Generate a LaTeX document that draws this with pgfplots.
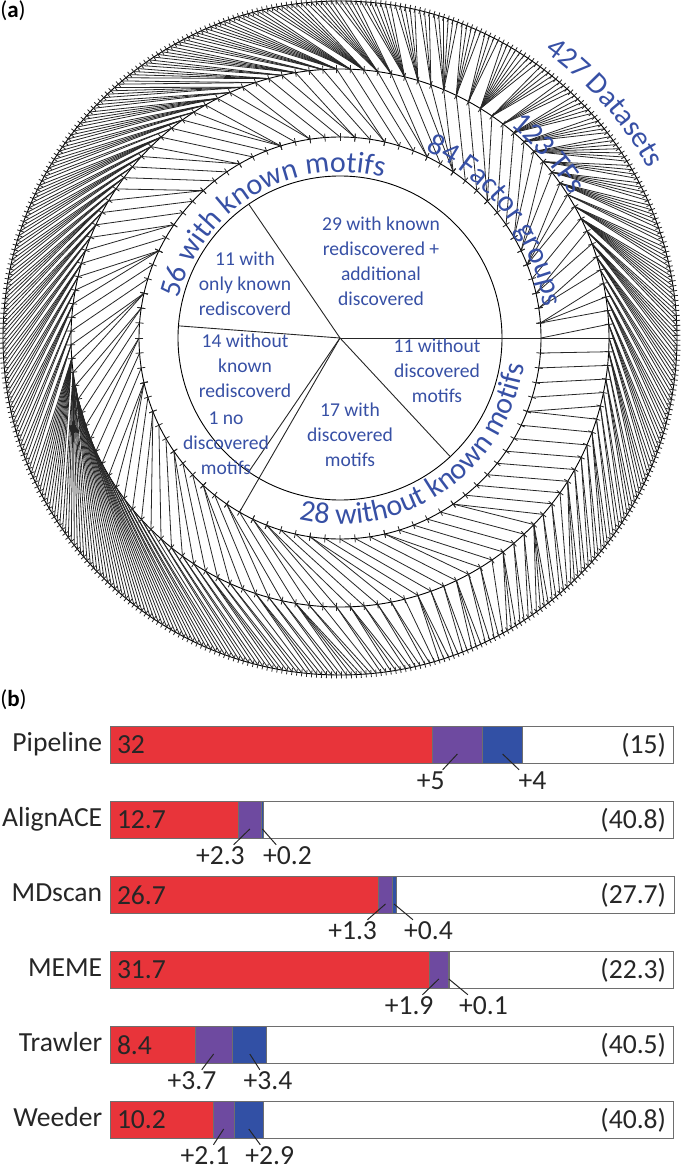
\documentclass[border=0pt]{standalone}
\usepackage{fontspec}
\setmainfont{Carlito}
\usepackage{pgfplots}
\usepackage{pgfplotstable}
\pgfplotsset{compat=1.18}
\usetikzlibrary{decorations.text}

\definecolor{tblue}{RGB}{55,80,165}
\definecolor{kred}{RGB}{232,52,58}
\definecolor{kpurple}{RGB}{110,74,160}
\definecolor{kblue}{RGB}{50,80,165}
\definecolor{edge}{RGB}{110,110,110}
\newcommand{\lbl}{\fontsize{13.8}{16}\selectfont}
\newcommand{\arcf}{\fontsize{15}{18}\selectfont}

% one row per dataset: index of its TF
\pgfplotstableread[row sep=\\]{
t\\
0\\0\\0\\ 1\\1\\1\\1\\ 2\\2\\2\\ 3\\3\\3\\3\\ 4\\4\\4\\ 5\\5\\5\\
6\\6\\6\\6\\6\\ 7\\7\\7\\7\\7\\7\\ 8\\8\\8\\8\\ 9\\9\\9\\9\\9\\9\\9\\9\\
10\\10\\10\\10\\10\\ 11\\11\\11\\ 12\\12\\12\\12\\12\\12\\ 13\\13\\13\\13\\13\\
14\\14\\14\\14\\ 15\\15\\15\\15\\15\\15\\15\\ 16\\16\\16\\16\\16\\ 17\\17\\17\\17\\17\\17\\
18\\18\\18\\18\\ 19\\19\\19\\19\\19\\ 20\\20\\20\\20\\20\\20\\20\\20\\20\\ 21\\21\\21\\21\\
22\\22\\22\\22\\22\\ 23\\23\\23\\23\\23\\23\\ 24\\24\\24\\ 25\\25\\25\\25\\25\\
26\\26\\26\\26\\26\\26\\26\\ 27\\27\\27\\27\\27\\ 28\\28\\28\\28\\28\\28\\
29\\29\\29\\29\\29\\29\\29\\29\\ 30\\30\\30\\30\\30\\30\\30\\ 31\\31\\31\\31\\31\\31\\
32\\32\\32\\32\\ 33\\33\\33\\ 34\\34\\34\\34\\34\\ 35\\35\\35\\ 36\\36\\36\\36\\ 37\\37\\
38\\38\\38\\38\\ 39\\39\\39\\ 40\\40\\40\\40\\40\\ 41\\41\\41\\41\\ 42\\42\\42\\ 43\\43\\43\\43\\
44\\44\\ 45\\45\\45\\45\\45\\ 46\\46\\46\\ 47\\47\\47\\47\\ 48\\48\\48\\ 49\\49\\49\\49\\
50\\50\\50\\ 51\\51\\51\\51\\
52\\52\\52\\ 53\\53\\53\\53\\ 54\\54\\54\\ 55\\55\\55\\ 56\\56\\56\\56\\ 57\\57\\57\\
58\\58\\58\\ 59\\59\\59\\59\\ 60\\60\\ 61\\61\\61\\ 62\\62\\62\\
63\\63\\63\\63\\63\\63\\63\\63\\63\\63\\63\\63\\
64\\64\\64\\64\\64\\64\\64\\64\\64\\64\\
65\\65\\65\\65\\65\\65\\65\\65\\ 66\\66\\66\\66\\66\\66\\
67\\67\\ 68\\68\\ 69\\69\\ 70\\ 71\\71\\ 72\\72\\ 73\\73\\ 74\\74\\ 75\\75\\ 76\\76\\
77\\ 78\\78\\ 79\\79\\ 80\\80\\
81\\81\\ 82\\82\\82\\ 83\\83\\ 84\\84\\ 85\\ 86\\86\\86\\ 87\\87\\ 88\\88\\ 89\\89\\89\\89\\ 90\\90\\
91\\ 92\\92\\ 93\\93\\93\\ 94\\94\\ 95\\95\\ 96\\96\\ 97\\ 98\\98\\98\\ 99\\99\\ 100\\100\\
101\\101\\101\\ 102\\102\\ 103\\103\\ 104\\ 105\\105\\105\\ 106\\106\\ 107\\107\\
108\\108\\108\\108\\ 109\\109\\ 110\\110\\ 111\\ 112\\112\\112\\ 113\\113\\ 114\\114\\
115\\115\\ 116\\116\\116\\ 117\\117\\ 118\\118\\ 119\\119\\ 120\\120\\120\\ 121\\121\\
122\\122\\122\\122\\
}\dsets
\pgfplotstablecreatecol[expr={\pgfplotstablerow}]{d}{\dsets}

% one row per TF: index of its factor group
\pgfplotstableread[row sep=\\]{
g\\
0\\0\\ 1\\1\\1\\ 2\\2\\ 3\\3\\ 4\\ 5\\5\\5\\ 6\\6\\ 7\\7\\ 8\\
9\\ 10\\10\\ 11\\ 12\\ 13\\13\\13\\ 14\\ 15\\15\\ 16\\ 17\\ 18\\18\\ 19\\ 20\\20\\ 21\\ 22\\
23\\23\\ 24\\ 25\\25\\25\\ 26\\ 27\\ 28\\28\\ 29\\ 30\\ 31\\31\\ 32\\ 33\\ 34\\34\\ 35\\
36\\36\\36\\ 37\\ 38\\ 39\\39\\39\\
40\\40\\ 41\\ 42\\42\\ 43\\ 44\\ 45\\45\\45\\ 46\\ 47\\47\\ 48\\ 49\\ 50\\50\\ 51\\ 52\\
53\\53\\ 54\\ 55\\55\\ 56\\ 57\\57\\ 58\\58\\
59\\ 60\\ 61\\61\\ 62\\ 63\\ 64\\ 65\\ 66\\66\\ 67\\ 68\\ 69\\ 70\\ 71\\71\\ 72\\ 73\\ 74\\
75\\ 76\\ 77\\ 78\\ 79\\79\\ 80\\ 81\\ 82\\ 83\\
}\tfs
\pgfplotstablecreatecol[expr={\pgfplotstablerow}]{j}{\tfs}

% pie wedge borders (deg) and how far they reach
\pgfplotstableread{
ang r
0 201
124.3 162
175.7 162
235.7 162
240 201
312.9 162
}\wedges

\pgfplotstableread{
row known extra more rest
0 32 5 4 15
1 12.7 2.3 0.2 40.8
2 26.7 1.3 0.4 27.7
3 31.7 1.9 0.1 22.3
4 8.4 3.7 3.4 40.5
5 10.2 2.1 2.9 40.8
}\bars

\pgfplotstableread{
row seg lab txt
0 34.5 31.84 +5
0 39.0 41.98 +4
1 13.85 10.92 +2.3
1 15.1 17.6 +0.2
2 27.35 24.08 +1.3
2 28.2 31.62 +0.4
3 32.65 29.7 +1.9
3 33.65 37.1 +0.1
4 10.25 8.1 +3.7
4 13.85 15.66 +3.4
5 11.25 9.4 +2.1
5 13.75 15.83 +2.9
}\incs

\begin{document}
\begin{tikzpicture}
\useasboundingbox (0,0) rectangle (340pt,-583pt);

% ---------------- (a) ----------------
\begin{axis}[
    at={(0pt,0pt)}, anchor=north west,
    scale only axis, width=340pt, height=340pt,
    xmin=-340, xmax=340, ymin=-342, ymax=338,
    hide axis, clip=false]
\draw[line width=0.45pt] (axis cs:0,0) circle[radius=337];
\draw[line width=0.45pt] (axis cs:0,0) circle[radius=269];
\draw[line width=0.45pt] (axis cs:0,0) circle[radius=201];
\draw[line width=0.45pt] (axis cs:0,0) circle[radius=162];
% datasets -> TFs
\addplot[black!85, line width=0.4pt,
    quiver={u={269*cos(360*\thisrow{t}/123)-337*cos(360*\thisrow{d}/427-24)},
            v={269*sin(360*\thisrow{t}/123)-337*sin(360*\thisrow{d}/427-24)}}]
    table[x expr={337*cos(360*\thisrow{d}/427-24)}, y expr={337*sin(360*\thisrow{d}/427-24)}] {\dsets};
% TFs -> factor groups
\addplot[black!85, line width=0.4pt,
    quiver={u={201*cos(360*\thisrow{g}/84)-269*cos(360*\thisrow{j}/123)},
            v={201*sin(360*\thisrow{g}/84)-269*sin(360*\thisrow{j}/123)}}]
    table[x expr={269*cos(360*\thisrow{j}/123)}, y expr={269*sin(360*\thisrow{j}/123)}] {\tfs};
% ticks
\addplot[black!85, line width=0.4pt,
    quiver={u={7*cos(360*\thisrow{d}/427-24)}, v={7*sin(360*\thisrow{d}/427-24)}}]
    table[x expr={333.5*cos(360*\thisrow{d}/427-24)}, y expr={333.5*sin(360*\thisrow{d}/427-24)}] {\dsets};
\addplot[black!85, line width=0.4pt,
    quiver={u={8*cos(360*\thisrow{j}/123)}, v={8*sin(360*\thisrow{j}/123)}}]
    table[x expr={265*cos(360*\thisrow{j}/123)}, y expr={265*sin(360*\thisrow{j}/123)}] {\tfs};
\addplot[black!85, line width=0.4pt,
    quiver={u={8*cos(360*\thisrow{g}/84)}, v={8*sin(360*\thisrow{g}/84)}}]
    table[x expr={197*cos(360*\thisrow{g}/84)}, y expr={197*sin(360*\thisrow{g}/84)}] {\tfs};
% pie borders
\addplot[black!85, line width=0.45pt,
    quiver={u={\thisrow{r}*cos(\thisrow{ang})}, v={\thisrow{r}*sin(\thisrow{ang})}}]
    table[x expr=0, y expr=0] {\wedges};

\begin{scope}[every node/.style={align=center, text=tblue, font=\fontsize{9.8}{12.5}\selectfont}]
\node at (axis cs:41,77) {29 with known\\rediscovered +\\additional\\discovered};
\node at (axis cs:-95,54) {11 with\\only known\\rediscoverd};
\node at (axis cs:-95,-28) {14 without\\known\\rediscoverd};
\node at (axis cs:-114,-105) {1 no\\discovered\\motifs};
\node at (axis cs:10,-97) {17 with\\discovered\\motifs};
\node at (axis cs:97,-33) {11 without\\discovered\\motifs};
\end{scope}
\end{axis}

\node[anchor=west, inner sep=0pt, font=\fontsize{11.5}{13}\selectfont] at (0pt,-5.5pt) {(\textbf{a})};

% curved labels
\coordinate (C) at (170pt,-169pt);
\path[decorate, decoration={text along path, text align=center,
    text={|\arcf\color{tblue}|56 with known motifs}}]
    ([shift={(C)}]180.6:83pt) arc[start angle=180.6, end angle=60.6, radius=83pt];
\path[decorate, decoration={text along path, text align=center,
    text={|\arcf\color{tblue}|28 without known motifs}}]
    ([shift={(C)}]244.4:93pt) arc[start angle=244.4, end angle=364.4, radius=93pt];
\path[decorate, decoration={text along path, text align=center,
    text={|\arcf\color{tblue}|84 Factor groups}}]
    ([shift={(C)}]82:103pt) arc[start angle=82, end angle=-8, radius=103pt];
\path[decorate, decoration={text along path, text align=center,
    text={|\arcf\color{tblue}|123 TFs}}]
    ([shift={(C)}]71.5:136pt) arc[start angle=71.5, end angle=11.5, radius=136pt];
\path[decorate, decoration={text along path, text align=center,
    text={|\arcf\color{tblue}|427 Datasets}}]
    ([shift={(C)}]71.6:176pt) arc[start angle=71.6, end angle=11.6, radius=176pt];

% ---------------- (b) ----------------
\node[anchor=west, inner sep=0pt, font=\fontsize{11.5}{13}\selectfont] at (0pt,-350pt) {(\textbf{b})};

\begin{axis}[
    at={(55.3pt,-353.75pt)}, anchor=north west,
    scale only axis, width=281.45pt, height=225pt,
    xmin=0, xmax=56, ymin=-0.5, ymax=5.5, y dir=reverse,
    xbar stacked, bar width=18.5pt,
    axis line style={draw=none}, xtick=\empty,
    ytick={0,...,5},
    yticklabels={Pipeline,AlignACE,MDscan,MEME,Trawler,Weeder},
    major tick length=0pt, ytick style={draw=none},
    yticklabel style={font=\lbl, text=black!85, inner sep=0pt,
        anchor=base east, yshift=-0.32em, xshift=-4pt},
    clip=false]
\addplot[fill=kred, draw=edge, line width=0.5pt] table[x=known, y=row] {\bars};
\addplot[fill=kpurple, draw=edge, line width=0.5pt] table[x=extra, y=row] {\bars};
\addplot[fill=kblue, draw=edge, line width=0.5pt] table[x=more, y=row] {\bars};
\addplot[fill=white, draw=edge, line width=0.5pt] table[x=rest, y=row] {\bars};
\end{axis}

\begin{axis}[
    at={(55.3pt,-353.75pt)}, anchor=north west,
    scale only axis, width=281.45pt, height=225pt,
    xmin=0, xmax=56, ymin=-0.5, ymax=5.5, y dir=reverse,
    hide axis, clip=false]
\addplot[black!85, line width=0.5pt,
    quiver={u={0.55*(\thisrow{lab}-\thisrow{seg})}, v={0.21}}]
    table[x=seg, y expr={\thisrow{row}+0.12}] {\incs};
\addplot[draw=none, mark=none, point meta=explicit symbolic, nodes near coords,
    every node near coord/.append style={anchor=center, font=\lbl, text=black!85, inner sep=0pt}]
    table[x=lab, y expr={\thisrow{row}+0.47}, meta=txt] {\incs};
\addplot[draw=none, mark=none, point meta=explicit symbolic, nodes near coords,
    every node near coord/.append style={anchor=west, xshift=3pt, font=\lbl, text=black!85, inner sep=0pt}]
    table[x expr=0, y=row, meta=known] {\bars};
\addplot[draw=none, mark=none, point meta=explicit symbolic, nodes near coords={(\pgfplotspointmeta)},
    every node near coord/.append style={anchor=east, xshift=-3.5pt, font=\lbl, text=black!85, inner sep=0pt}]
    table[x expr=56, y=row, meta=rest] {\bars};
\end{axis}
\end{tikzpicture}
\end{document}
